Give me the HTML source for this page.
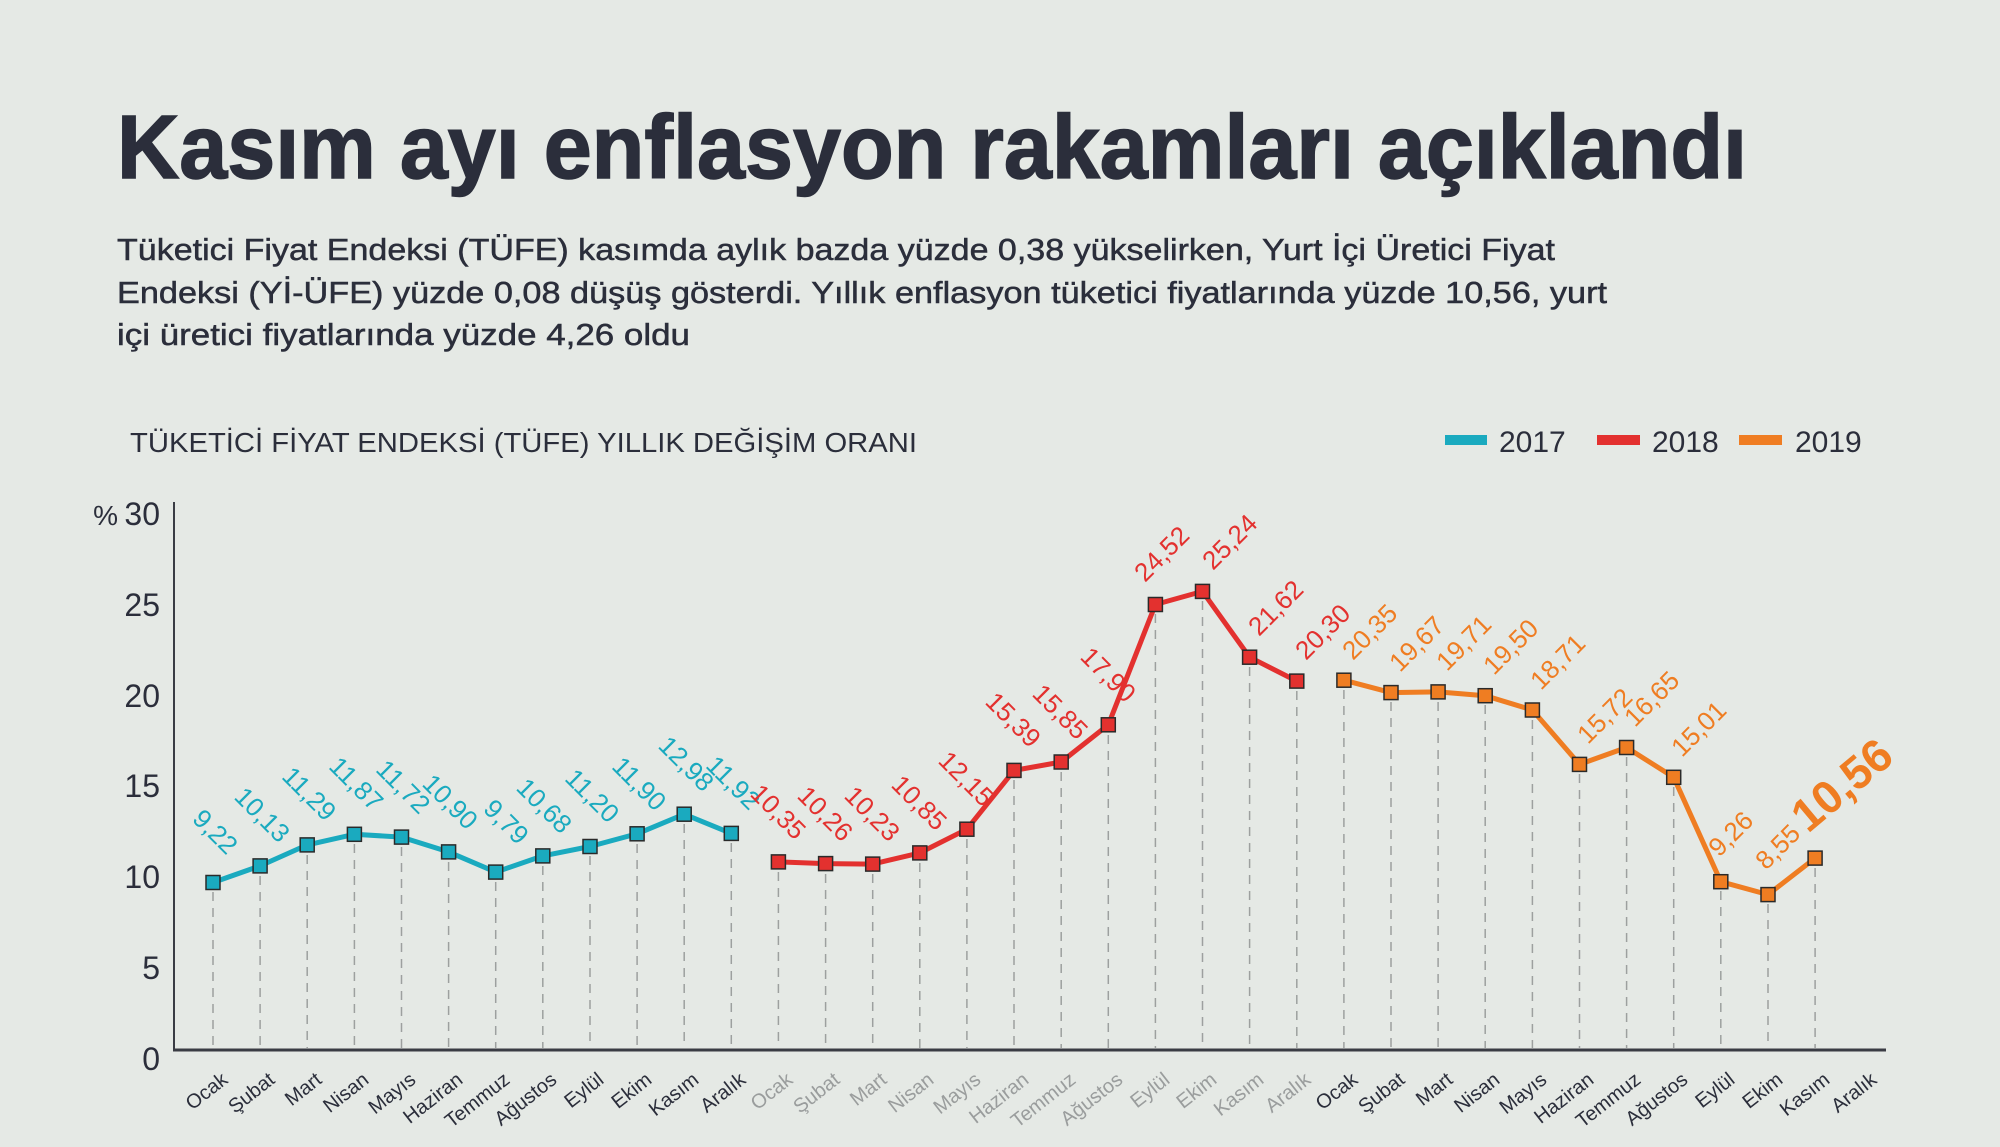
<!DOCTYPE html>
<html><head><meta charset="utf-8"><style>
html,body{margin:0;padding:0;background:#e5e9e5;}
svg{display:block;font-family:"Liberation Sans",sans-serif;}
</style></head><body>
<svg width="2000" height="1147" viewBox="0 0 2000 1147" xmlns="http://www.w3.org/2000/svg">
<rect width="2000" height="1147" fill="#e5e9e5"/>
<text x="117" y="178" font-size="90" font-weight="bold" fill="#2b2e3b" stroke="#2b2e3b" stroke-width="1.5" textLength="1630" lengthAdjust="spacingAndGlyphs">Kasım ayı enflasyon rakamları açıklandı</text>
<g font-size="31" fill="#2b2e3b" stroke="#2b2e3b" stroke-width="0.5">
<text x="117" y="260" textLength="1438" lengthAdjust="spacingAndGlyphs">Tüketici Fiyat Endeksi (TÜFE) kasımda aylık bazda yüzde 0,38 yükselirken, Yurt İçi Üretici Fiyat</text>
<text x="117" y="303" textLength="1490" lengthAdjust="spacingAndGlyphs">Endeksi (Yİ-ÜFE) yüzde 0,08 düşüş gösterdi. Yıllık enflasyon tüketici fiyatlarında yüzde 10,56, yurt</text>
<text x="117" y="345" textLength="573" lengthAdjust="spacingAndGlyphs">içi üretici fiyatlarında yüzde 4,26 oldu</text>
</g>
<text x="130" y="452" font-size="28" fill="#2b2e3b" textLength="787" lengthAdjust="spacingAndGlyphs">TÜKETİCİ FİYAT ENDEKSİ (TÜFE) YILLIK DEĞİŞİM ORANI</text>
<g font-size="30" fill="#2b2e3b">
<rect x="1445" y="435" width="42" height="10" fill="#1aaabf"/><text x="1499" y="452">2017</text>
<rect x="1597" y="435" width="43" height="10" fill="#e3312f"/><text x="1652" y="452">2018</text>
<rect x="1739" y="435" width="43" height="10" fill="#ef7d22"/><text x="1795" y="452">2019</text>
</g>
<g font-size="32" fill="#2b2e3b" text-anchor="end">
<text x="160" y="525">30</text><text x="118" y="525" font-size="28">%</text>
<text x="160" y="616">25</text>
<text x="160" y="707">20</text>
<text x="160" y="797">15</text>
<text x="160" y="888">10</text>
<text x="160" y="979">5</text>
<text x="160" y="1070">0</text>
</g>
<line x1="174" y1="502" x2="174" y2="1051" stroke="#3a3c44" stroke-width="2"/>
<g stroke="#9da09f" stroke-width="1.5" stroke-dasharray="9 7">
<line x1="213" y1="892" x2="213" y2="1048"/><line x1="260.1" y1="876" x2="260.1" y2="1048"/><line x1="307.2" y1="855" x2="307.2" y2="1048"/><line x1="354.4" y1="844" x2="354.4" y2="1048"/><line x1="401.5" y1="847" x2="401.5" y2="1048"/><line x1="448.6" y1="862" x2="448.6" y2="1048"/><line x1="495.7" y1="882" x2="495.7" y2="1048"/><line x1="542.8" y1="866" x2="542.8" y2="1048"/><line x1="590" y1="856" x2="590" y2="1048"/><line x1="637.1" y1="844" x2="637.1" y2="1048"/><line x1="684.2" y1="824" x2="684.2" y2="1048"/><line x1="731.3" y1="843" x2="731.3" y2="1048"/>
<line x1="778.4" y1="872" x2="778.4" y2="1048"/><line x1="825.6" y1="874" x2="825.6" y2="1048"/><line x1="872.7" y1="874" x2="872.7" y2="1048"/><line x1="919.8" y1="863" x2="919.8" y2="1048"/><line x1="966.9" y1="839" x2="966.9" y2="1048"/><line x1="1014" y1="780" x2="1014" y2="1048"/><line x1="1061.2" y1="772" x2="1061.2" y2="1048"/><line x1="1108.3" y1="735" x2="1108.3" y2="1048"/><line x1="1155.4" y1="614" x2="1155.4" y2="1048"/><line x1="1202.5" y1="601" x2="1202.5" y2="1048"/><line x1="1249.6" y1="667" x2="1249.6" y2="1048"/><line x1="1296.8" y1="691" x2="1296.8" y2="1048"/>
<line x1="1343.9" y1="690" x2="1343.9" y2="1048"/><line x1="1391" y1="702" x2="1391" y2="1048"/><line x1="1438.1" y1="702" x2="1438.1" y2="1048"/><line x1="1485.2" y1="705" x2="1485.2" y2="1048"/><line x1="1532.4" y1="720" x2="1532.4" y2="1048"/><line x1="1579.5" y1="774" x2="1579.5" y2="1048"/><line x1="1626.6" y1="757" x2="1626.6" y2="1048"/><line x1="1673.7" y1="787" x2="1673.7" y2="1048"/><line x1="1720.8" y1="891" x2="1720.8" y2="1048"/><line x1="1768" y1="904" x2="1768" y2="1048"/><line x1="1815.1" y1="868" x2="1815.1" y2="1048"/>
</g>
<line x1="173" y1="1050" x2="1886" y2="1050" stroke="#3a3c44" stroke-width="3"/>
<g fill="none" stroke-width="5" stroke-linejoin="round">
<polyline stroke="#1aaabf" points="213,882.5 260.1,865.9 307.2,844.9 354.4,834.3 401.5,837.1 448.6,851.9 495.7,872.1 542.8,855.9 590,846.5 637.1,833.8 684.2,814.2 731.3,833.4"/>
<polyline stroke="#e3312f" points="778.4,861.9 825.6,863.6 872.7,864.1 919.8,852.9 966.9,829.2 1014,770.4 1061.2,762 1108.3,724.8 1155.4,604.5 1202.5,591.4 1249.6,657.2 1296.8,681.1"/>
<polyline stroke="#ef7d22" points="1343.9,680.2 1391,692.6 1438.1,691.9 1485.2,695.7 1532.4,710 1579.5,764.4 1626.6,747.5 1673.7,777.3 1720.8,881.7 1768,894.6 1815.1,858.1"/>
</g>
<g stroke="#2a2a2a" stroke-width="1.5">
<g fill="#1aaabf">
<rect x="206" y="875.5" width="14" height="14"/><rect x="253.1" y="858.9" width="14" height="14"/><rect x="300.2" y="837.9" width="14" height="14"/><rect x="347.4" y="827.3" width="14" height="14"/><rect x="394.5" y="830.1" width="14" height="14"/><rect x="441.6" y="844.9" width="14" height="14"/><rect x="488.7" y="865.1" width="14" height="14"/><rect x="535.8" y="848.9" width="14" height="14"/><rect x="583" y="839.5" width="14" height="14"/><rect x="630.1" y="826.8" width="14" height="14"/><rect x="677.2" y="807.2" width="14" height="14"/><rect x="724.3" y="826.4" width="14" height="14"/>
</g>
<g fill="#e3312f">
<rect x="771.4" y="854.9" width="14" height="14"/><rect x="818.6" y="856.6" width="14" height="14"/><rect x="865.7" y="857.1" width="14" height="14"/><rect x="912.8" y="845.9" width="14" height="14"/><rect x="959.9" y="822.2" width="14" height="14"/><rect x="1007" y="763.4" width="14" height="14"/><rect x="1054.2" y="755" width="14" height="14"/><rect x="1101.3" y="717.8" width="14" height="14"/><rect x="1148.4" y="597.5" width="14" height="14"/><rect x="1195.5" y="584.4" width="14" height="14"/><rect x="1242.6" y="650.2" width="14" height="14"/><rect x="1289.8" y="674.1" width="14" height="14"/>
</g>
<g fill="#ef7d22">
<rect x="1336.9" y="673.2" width="14" height="14"/><rect x="1384" y="685.6" width="14" height="14"/><rect x="1431.1" y="684.9" width="14" height="14"/><rect x="1478.2" y="688.7" width="14" height="14"/><rect x="1525.4" y="703" width="14" height="14"/><rect x="1572.5" y="757.4" width="14" height="14"/><rect x="1619.6" y="740.5" width="14" height="14"/><rect x="1666.7" y="770.3" width="14" height="14"/><rect x="1713.8" y="874.7" width="14" height="14"/><rect x="1761" y="887.6" width="14" height="14"/><rect x="1808.1" y="851.1" width="14" height="14"/>
</g>
</g>
<g font-size="26" text-anchor="middle" fill="#1aaabf">
<text transform="translate(209,838) rotate(45)">9,22</text>
<text transform="translate(256,821) rotate(45)">10,13</text>
<text transform="translate(303,800) rotate(45)">11,29</text>
<text transform="translate(350,790) rotate(45)">11,87</text>
<text transform="translate(397,793) rotate(45)">11,72</text>
<text transform="translate(444,808) rotate(45)">10,90</text>
<text transform="translate(500,828) rotate(45)">9,79</text>
<text transform="translate(538,812) rotate(45)">10,68</text>
<text transform="translate(586,802) rotate(45)">11,20</text>
<text transform="translate(633,790) rotate(45)">11,90</text>
<text transform="translate(680,770) rotate(45)">12,98</text>
<text transform="translate(727,789) rotate(45)">11,92</text>
</g>
<g font-size="26" text-anchor="middle" fill="#e3312f">
<text transform="translate(772,818) rotate(45)">10,35</text>
<text transform="translate(819,820) rotate(45)">10,26</text>
<text transform="translate(866,820) rotate(45)">10,23</text>
<text transform="translate(913,809) rotate(45)">10,85</text>
<text transform="translate(960,785) rotate(45)">12,15</text>
<text transform="translate(1007,726) rotate(45)">15,39</text>
<text transform="translate(1054,718) rotate(45)">15,85</text>
<text transform="translate(1102,681) rotate(45)">17,90</text>
<text transform="translate(1168,560) rotate(-45)">24,52</text>
<text transform="translate(1236,548) rotate(-45)">25,24</text>
<text transform="translate(1282,614) rotate(-45)">21,62</text>
<text transform="translate(1329,638) rotate(-45)">20,30</text>
</g>
<g font-size="26" text-anchor="middle" fill="#ef7d22">
<text transform="translate(1376,638) rotate(-45)">20,35</text>
<text transform="translate(1423,650) rotate(-45)">19,67</text>
<text transform="translate(1470,649) rotate(-45)">19,71</text>
<text transform="translate(1517,653) rotate(-45)">19,50</text>
<text transform="translate(1564,668) rotate(-45)">18,71</text>
<text transform="translate(1611,722) rotate(-45)">15,72</text>
<text transform="translate(1658,705) rotate(-45)">16,65</text>
<text transform="translate(1705,735) rotate(-45)">15,01</text>
<text transform="translate(1737,840) rotate(-45)">9,26</text>
<text transform="translate(1784,853) rotate(-45)">8,55</text>
<text transform="translate(1852,797) rotate(-40)" font-size="46" font-weight="bold">10,56</text>
</g>
<g font-size="20" text-anchor="end" fill="#2b2e3b">
<text transform="translate(229,1082) rotate(-38)">Ocak</text>
<text transform="translate(276,1082) rotate(-38)">Şubat</text>
<text transform="translate(323,1082) rotate(-38)">Mart</text>
<text transform="translate(370,1082) rotate(-38)">Nisan</text>
<text transform="translate(417,1082) rotate(-38)">Mayıs</text>
<text transform="translate(464,1082) rotate(-38)">Haziran</text>
<text transform="translate(511,1082) rotate(-38)">Temmuz</text>
<text transform="translate(558,1082) rotate(-38)">Ağustos</text>
<text transform="translate(605,1082) rotate(-38)">Eylül</text>
<text transform="translate(653,1082) rotate(-38)">Ekim</text>
<text transform="translate(700,1082) rotate(-38)">Kasım</text>
<text transform="translate(747,1082) rotate(-38)">Aralık</text>
</g>
<g font-size="20" text-anchor="end" fill="#9a9d9d">
<text transform="translate(794,1082) rotate(-38)">Ocak</text>
<text transform="translate(841,1082) rotate(-38)">Şubat</text>
<text transform="translate(888,1082) rotate(-38)">Mart</text>
<text transform="translate(935,1082) rotate(-38)">Nisan</text>
<text transform="translate(982,1082) rotate(-38)">Mayıs</text>
<text transform="translate(1030,1082) rotate(-38)">Haziran</text>
<text transform="translate(1077,1082) rotate(-38)">Temmuz</text>
<text transform="translate(1124,1082) rotate(-38)">Ağustos</text>
<text transform="translate(1171,1082) rotate(-38)">Eylül</text>
<text transform="translate(1218,1082) rotate(-38)">Ekim</text>
<text transform="translate(1265,1082) rotate(-38)">Kasım</text>
<text transform="translate(1312,1082) rotate(-38)">Aralık</text>
</g>
<g font-size="20" text-anchor="end" fill="#2b2e3b">
<text transform="translate(1359,1082) rotate(-38)">Ocak</text>
<text transform="translate(1406,1082) rotate(-38)">Şubat</text>
<text transform="translate(1454,1082) rotate(-38)">Mart</text>
<text transform="translate(1501,1082) rotate(-38)">Nisan</text>
<text transform="translate(1548,1082) rotate(-38)">Mayıs</text>
<text transform="translate(1595,1082) rotate(-38)">Haziran</text>
<text transform="translate(1642,1082) rotate(-38)">Temmuz</text>
<text transform="translate(1689,1082) rotate(-38)">Ağustos</text>
<text transform="translate(1736,1082) rotate(-38)">Eylül</text>
<text transform="translate(1784,1082) rotate(-38)">Ekim</text>
<text transform="translate(1831,1082) rotate(-38)">Kasım</text>
<text transform="translate(1878,1082) rotate(-38)">Aralık</text>
</g>
</svg>
</body></html>
